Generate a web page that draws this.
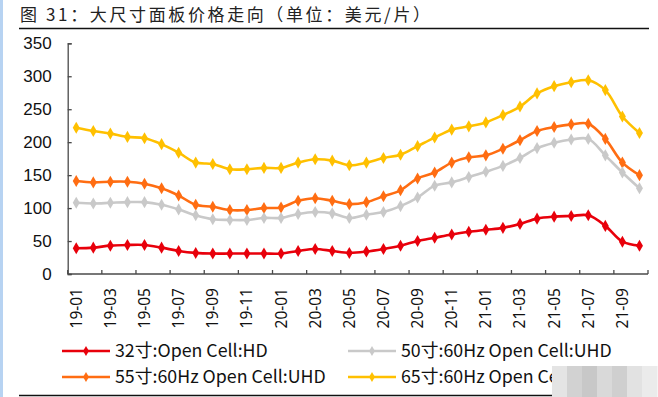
<!DOCTYPE html>
<html>
<head>
<meta charset="utf-8">
<script src="https://cdn.jsdelivr.net/npm/d3@7"></script>
<style>
  body { margin: 0; background: #fff; }
  svg { display: block; }
</style>
</head>
<body>
<svg width="658" height="397"></svg>
<script>
const { select, scaleLinear, scaleBand, axisLeft, line, curveCatmullRom, symbol, symbolDiamond } = d3;

// months 19-01 .. 21-10
const months = [
  '19-01','19-02','19-03','19-04','19-05','19-06','19-07','19-08','19-09','19-10','19-11','19-12',
  '20-01','20-02','20-03','20-04','20-05','20-06','20-07','20-08','20-09','20-10','20-11','20-12',
  '21-01','21-02','21-03','21-04','21-05','21-06','21-07','21-08','21-09','21-10'
];

const p32 = [39, 40, 43, 44, 44, 40, 35, 32, 31, 31, 31, 31, 31, 35, 38, 35, 32, 34, 38, 43, 50, 55, 60, 64, 67, 70, 76, 84, 87, 88, 89, 73, 49, 43];
const p50 = [108, 107, 108, 109, 109, 105, 98, 89, 83, 82, 82, 85, 85, 91, 94, 92, 85, 90, 94, 103, 116, 134, 139, 147, 155, 164, 176, 191, 199, 204, 205, 180, 154, 130];
const p55 = [141, 139, 140, 140, 137, 130, 119, 105, 102, 97, 97, 100, 101, 111, 115, 111, 106, 109, 118, 127, 145, 154, 169, 177, 180, 190, 203, 217, 223, 227, 228, 205, 169, 150];
const p65 = [222, 217, 213, 208, 206, 197, 184, 169, 167, 159, 159, 161, 161, 169, 174, 172, 165, 169, 176, 181, 194, 207, 219, 224, 230, 241, 254, 274, 285, 291, 294, 279, 239, 214];

const yTicks = [0, 50, 100, 150, 200, 250, 300, 350];

const seriesNames = ['32寸:Open Cell:HD', '50寸:60Hz Open Cell:UHD', '55寸:60Hz Open Cell:UHD', '65寸:60Hz Open Cell:UHD'];
const seriesColors = ['#e8000b', '#c9c9c9', '#ff6d12', '#ffc000'];
const seriesValues = [p32, p50, p55, p65];
// draw order: back to front
const drawOrder = [3, 2, 1, 0];

const svg = select('svg');

const plotLeft = 67.7;
const plotRight = 648;
const plotTop = 43.3;
const plotBottom = 274;

// left blue strip of the page
svg.append('rect')
  .attr('x', 0).attr('y', 0)
  .attr('width', 3).attr('height', 397)
  .attr('fill', '#b7d3f2');

// Title
svg.append('text')
  .attr('x', 20)
  .attr('y', 21)
  .attr('font-family', '"Noto Sans CJK SC", sans-serif')
  .attr('font-size', 17)
  .attr('fill', '#222')
  .attr('textLength', 410)
  .attr('lengthAdjust', 'spacing')
  .text('图 31：大尺寸面板价格走向（单位：美元/片）');

svg.append('line')
  .attr('x1', 19).attr('x2', 649)
  .attr('y1', 28.5).attr('y2', 28.5)
  .attr('stroke', '#111')
  .attr('stroke-width', 1.6);

svg.append('line')
  .attr('x1', 19).attr('x2', 650)
  .attr('y1', 395.5).attr('y2', 395.5)
  .attr('stroke', '#111')
  .attr('stroke-width', 1.6);

const xScale = scaleBand()
  .domain(months)
  .range([plotLeft, plotRight])
  .paddingInner(0)
  .paddingOuter(0);

const yScale = scaleLinear()
  .domain([0, 350])
  .range([plotBottom, plotTop]);

const axisColor = '#4a4a4a';

// Y axis
const yAxisG = svg.append('g')
  .attr('transform', `translate(${plotLeft},0)`)
  .call(axisLeft(yScale).tickValues(yTicks).tickSize(-4).tickPadding(16));
yAxisG.select('.domain').attr('stroke', axisColor).attr('stroke-width', 1.3);
yAxisG.selectAll('.tick line').attr('stroke', axisColor).attr('stroke-width', 1.3);
yAxisG.selectAll('.tick text')
  .attr('font-family', '"Liberation Sans", Arial, sans-serif')
  .attr('font-size', 17)
  .attr('fill', '#111');

// X axis: ticks on every second band boundary
const xAxisG = svg.append('g')
  .attr('transform', `translate(0,${plotBottom})`);
xAxisG.append('line')
  .attr('x1', plotLeft).attr('x2', plotRight)
  .attr('y1', 0).attr('y2', 0)
  .attr('stroke', axisColor)
  .attr('stroke-width', 1.3);
const boundaries = months.filter((d, i) => i % 2 === 0).map(d => xScale(d)).concat([plotRight]);
xAxisG.selectAll('line.tick')
  .data(boundaries)
  .join('line')
  .attr('class', 'tick')
  .attr('x1', d => d).attr('x2', d => d)
  .attr('y1', 0).attr('y2', -4)
  .attr('stroke', axisColor)
  .attr('stroke-width', 1.3);

xAxisG.selectAll('text')
  .data(months.filter((d, i) => i % 2 === 0))
  .join('text')
  .attr('transform', d => `translate(${xScale(d) + xScale.bandwidth() / 2 + 5.5},14) rotate(-90)`)
  .attr('text-anchor', 'end')
  .attr('font-family', '"Noto Sans", sans-serif')
  .attr('font-size', 15.5)
  .attr('fill', '#111')
  .text(d => d);

// Lines
const xMid = (d, i) => xScale(months[i]) + xScale.bandwidth() / 2;
const lineGen = line()
  .x(xMid)
  .y(d => yScale(d))
  .curve(curveCatmullRom.alpha(0.5));

const seriesG = svg.append('g');
drawOrder.forEach(k => {
  const g = seriesG.append('g');
  g.append('path')
    .datum(seriesValues[k])
    .attr('fill', 'none')
    .attr('stroke', seriesColors[k])
    .attr('stroke-width', 2.6)
    .attr('d', lineGen);
  g.selectAll('path.marker')
    .data(seriesValues[k])
    .join('path')
    .attr('class', 'marker')
    .attr('d', symbol(symbolDiamond, 42))
    .attr('transform', (d, i) => `translate(${xMid(d, i)},${yScale(d)})`)
    .attr('fill', seriesColors[k]);
});

// Legend
const legendPos = [[62, 351], [348, 351], [62, 377], [348, 377]];
const legendG = svg.append('g');
seriesNames.forEach((name, k) => {
  const [lx, ly] = legendPos[k];
  const g = legendG.append('g').attr('transform', `translate(${lx},${ly})`);
  g.append('line')
    .attr('x1', 0).attr('x2', 48)
    .attr('y1', 0).attr('y2', 0)
    .attr('stroke', seriesColors[k])
    .attr('stroke-width', 2.6);
  g.append('path')
    .attr('d', symbol(symbolDiamond, 30))
    .attr('transform', 'translate(24,0)')
    .attr('fill', seriesColors[k]);
  g.append('text')
    .attr('x', 53)
    .attr('y', 0)
    .attr('dy', '0.36em')
    .attr('font-family', '"Noto Sans CJK SC", "Noto Sans", sans-serif')
    .attr('font-size', 17.8)
    .attr('fill', '#111')
    .text(name);
});

// blurred watermark patch at bottom right
const patchShades = ['#e4e4e4', '#d2d2d2', '#c8c8c8', '#d9d9d9', '#cfcfcf', '#e2e2e2', '#ebebeb'];
svg.append('g')
  .selectAll('rect')
  .data(patchShades)
  .join('rect')
  .attr('x', (d, i) => 552 + i * 15)
  .attr('y', 366)
  .attr('width', 15.5)
  .attr('height', 31)
  .attr('fill', d => d);
</script>
</body>
</html>
